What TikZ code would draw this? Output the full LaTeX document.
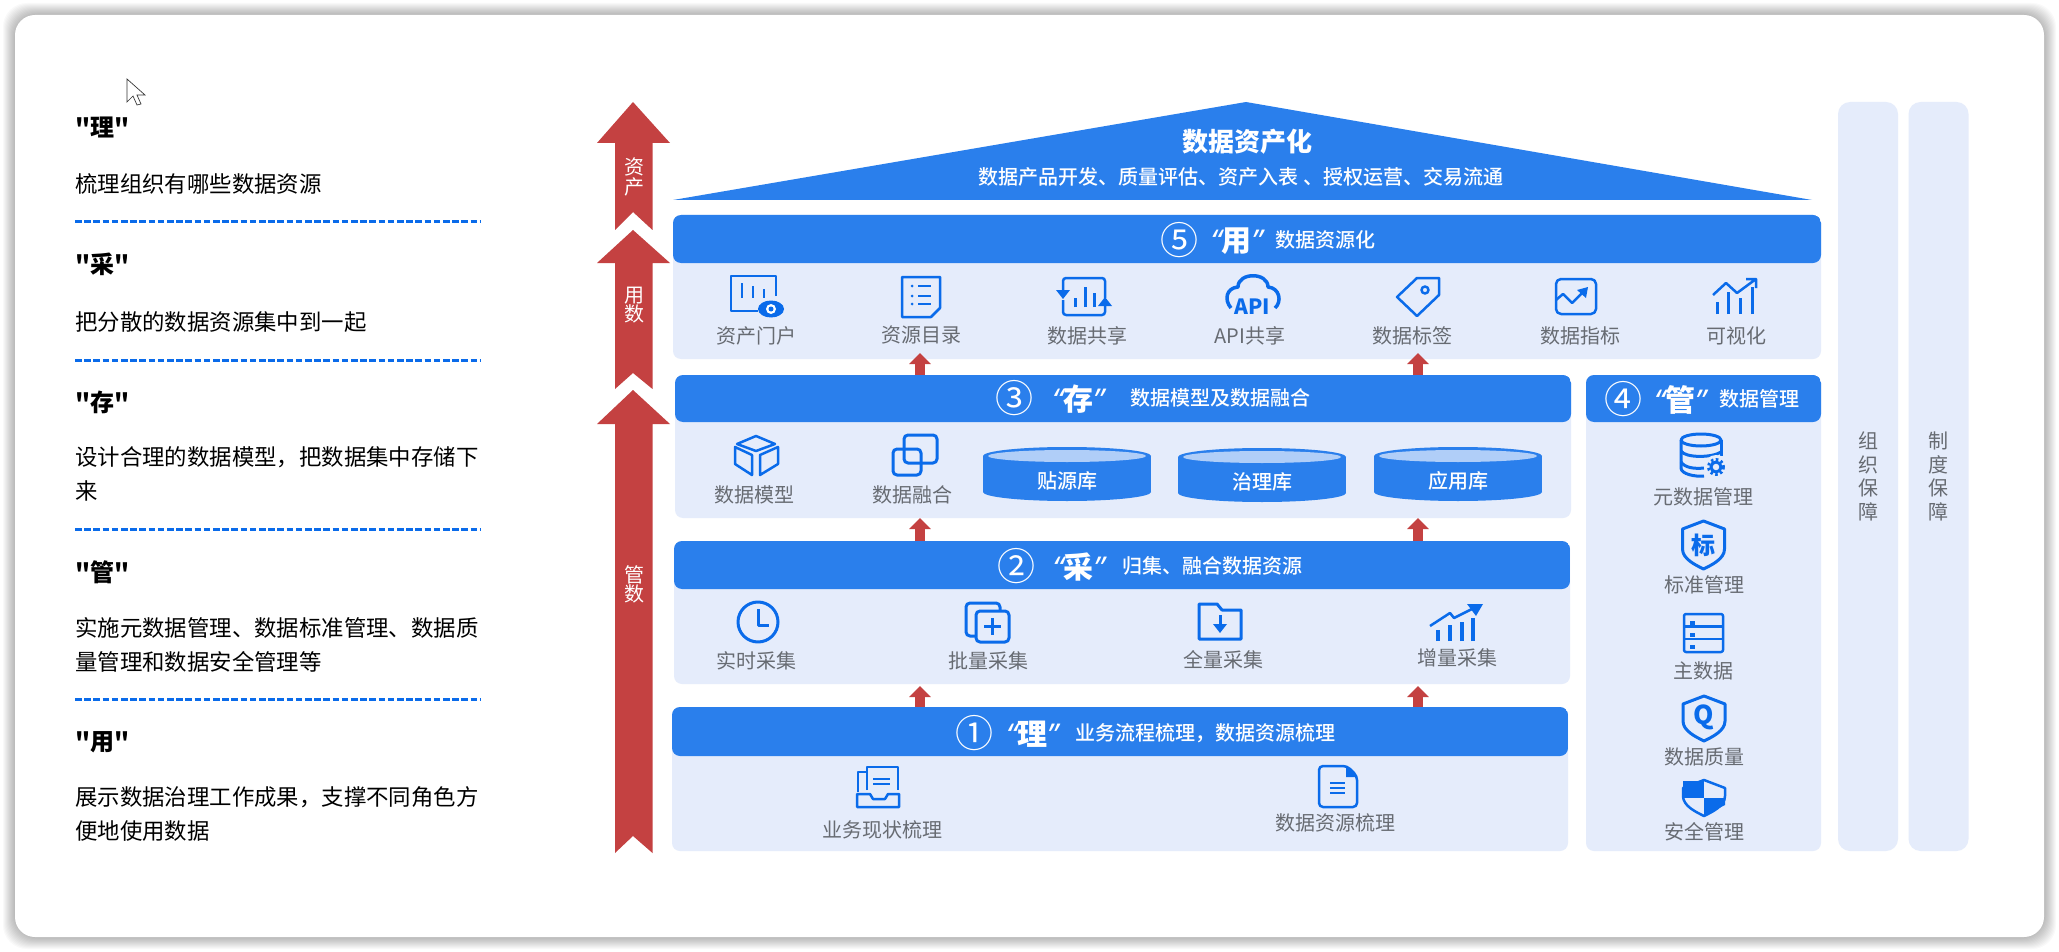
\documentclass[tikz,border=0pt]{standalone}
\usepackage{fontspec}
\setmainfont{Noto Sans CJK SC}
\newfontfamily\plainface{Noto Sans CJK SC}
\newfontfamily\midface{Noto Sans CJK SC Medium}
\newfontfamily\latinq{Noto Sans}
\usepackage{xcolor}
\usetikzlibrary{positioning,calc,arrows.meta}
\definecolor{CHead}{HTML}{2A7FEC}
\definecolor{CBody}{HTML}{E5ECFB}
\definecolor{CIcon}{HTML}{0A6BEA}
\definecolor{CRed}{HTML}{C44141}
\definecolor{CLabel}{HTML}{676B72}
\definecolor{CRim}{HTML}{B0CEF8}
\newcommand{\px}[2]{\fontsize{#1}{#2}\selectfont}
\newcommand{\quoted}[1]{{\latinq\bfseries\itshape “}#1{\latinq\bfseries\itshape ”}}
% band title: tag, x of digit, x of word, x of text, y, digit, word, text
\newcommand{\bandtitle}[8]{
  \node[headtext,font=\px{38}{40}] (#1n) at (#2,#5) {#6};
  \node[headtext,font=\px{30}{34}\bfseries] (#1w) at (#3,#5+1) {\quoted{#7}};
  \node[headtext,font=\px{20}{24}\midface] (#1s) at (#4,#5) {#8};}
% shield outline: centre x, top y, bottom y
\newcommand{\shieldline}[3]{(#1,#2) -- (#1+21,#2+8) -- (#1+21,#3-20) .. controls (#1+21,#3-10) and (#1+8,#3-4) .. (#1,#3) .. controls (#1-8,#3-4) and (#1-21,#3-10) .. (#1-21,#3-20) -- (#1-21,#2+8) -- cycle}
% drum: name, centre x, y of top ellipse, text
\newcommand{\drum}[4]{
  \fill[CHead] (#2-84,#3) rectangle (#2+84,#3+36);
  \fill[CHead] (#2,#3) ellipse [x radius=84,y radius=9];
  \fill[CHead] (#2,#3+36) ellipse [x radius=84,y radius=9];
  \fill[CRim] (#2,#3) ellipse [x radius=79,y radius=6];
  \node[font=\px{20}{24}\midface,text=white] (#1) at (#2,#3+25) {#4};}
\begin{document}
\begin{tikzpicture}[x=1pt,y=-1pt,
  band/.style n args={3}{minimum width=#1pt, minimum height=#2pt, inner sep=0pt, outer sep=0pt,
    rounded corners=8pt, fill=CBody,
    path picture={\fill[CHead] (path picture bounding box.north west) rectangle ([yshift=-#3pt]path picture bounding box.north east);}},
  sidebar/.style={minimum width=60pt, minimum height=749pt, inner sep=0pt, rounded corners=12pt, fill=CBody,
    align=center, text=CLabel, font=\px{20}{23.5}},
  heading/.style={anchor=west, inner sep=0pt, font=\px{24}{28}\plainface\bfseries},
  bodytext/.style={anchor=west, inner sep=0pt, align=left, font=\px{22.4}{34}},
  sepline/.style={draw=CIcon, line width=3pt, dash pattern=on 6.5pt off 2.7pt},
  itemlabel/.style={font=\px{20}{24}, text=CLabel},
  headtext/.style={text=white, inner sep=0pt},
  barlabel/.style={text=white, align=center, inner sep=0pt},
  pipe/.style={draw=CRed, line width=10pt, -{Triangle[length=11pt,width=21pt]}},
  ico/.style={draw=CIcon, line width=2.5pt, line join=round},
  icofill/.style={fill=CIcon}]
\useasboundingbox (0,0) rectangle (2059,952);
\fill[white] (0,0) rectangle (2059,952);
% card with soft edge
\foreach \d in {12,...,1} {\fill[black,opacity=.022,rounded corners=24pt] (15-\d,15-\d) rectangle (2044+\d,937+\d);}
\fill[white,rounded corners=20pt] (15,15) rectangle (2044,937);
\draw[draw=black!80,fill=white,line width=.7pt] (127,79) -- (127,102) -- (133,96) -- (137,105) -- (141,104) -- (137,95) -- (145,95) -- cycle;

% left column
\foreach \name/\y/\txt in {hli/127/"理", hcai/264/"采", hcun/402/"存", hguan/572/"管", hyong/742/"用"} {\node[heading] (\name) at (75,\y) {\txt};}
\node[bodytext] (tli) at (75,184) {梳理组织有哪些数据资源};
\node[bodytext] (tcai) at (75,322) {把分散的数据资源集中到一起};
\node[bodytext] (tcun) at (75,474) {设计合理的数据模型，把数据集中存储下\\来};
\node[bodytext] (tguan) at (75,645) {实施元数据管理、数据标准管理、数据质\\量管理和数据安全管理等};
\node[bodytext] (tyong) at (75,814) {展示数据治理工作成果，支撑不同角色方\\便地使用数据};
\foreach \y in {222,360,529,699} {\draw[sepline] (75,\y) -- (480,\y);}

% red bars
\foreach \tipy/\heady/\endy/\notchy in {102/143/230/212, 230/263/389/373, 390/424/853/836} {
  \fill[CRed] (633,\tipy) -- (670,\heady) -- (652.5,\heady) -- (652.5,\endy) -- (633,\notchy) -- (615,\endy) -- (615,\heady) -- (597,\heady) -- cycle;}
\node[barlabel,font=\px{20}{20}] (barzc) at (634,177) {资\\产};
\node[barlabel,font=\px{20}{17}] (baryong) at (634,305) {用\\数};
\node[barlabel,font=\px{20}{19}] (barguan) at (634,584) {管\\数};

% roof
\fill[CHead] (673,200) -- (1246,102) -- (1812,200) -- cycle;
\node[headtext,font=\px{26}{30}\bfseries] (rooft) at (1247,142) {数据资产化};
\node[headtext,font=\px{20}{24}\midface] (roofs) at (1241,177) {数据产品开发、质量评估、资产入表 、授权运营、交易流通};

% bands
\node[band={1148}{144}{48}] (band5) at (1247,287) {};
\node[band={896}{143}{47}] (band3) at (1123,446.5) {};
\node[band={896}{143}{48}] (band2) at (1122,612.5) {};
\node[band={896}{144}{49}] (band1) at (1120,779) {};
\node[band={235}{476}{47}] (band4) at (1703.5,613) {};
\bandtitle{title5}{1179}{1236.5}{1325}{240}{⑤}{用}{数据资源化}
\bandtitle{title3}{1014}{1078}{1220}{398}{③}{存}{数据模型及数据融合}
\bandtitle{title2}{1016}{1078.5}{1212.5}{566}{②}{采}{归集、融合数据资源}
\bandtitle{title1}{974}{1032}{1205.5}{733}{①}{理}{业务流程梳理，数据资源梳理}
\bandtitle{title4}{1623}{1680}{1759}{399}{④}{管}{数据管理}
\node[sidebar] (side1) at (1868,476.5) {组\\织\\保\\障};
\node[sidebar] (side2) at (1938.5,476.5) {制\\度\\保\\障};

% links between bands
\coordinate (pipeL) at (920,0);
\coordinate (pipeR) at (1418,0);
\foreach \p in {pipeL,pipeR} {
  \draw[pipe,shorten >=-6pt] (band3.north -| \p) -- (band5.south -| \p);
  \draw[pipe] (band2.north -| \p) -- (band3.south -| \p);
  \draw[pipe,shorten >=2pt] (band1.north -| \p) -- (band2.south -| \p);}

% item labels
\foreach \name/\x/\y/\txt in {lportal/756/336/资产门户, lcatalog/921/335/资源目录, lshare/1087/336/数据共享, lapi/1250/336/API共享, ltag/1412/336/数据标签, lmetric/1580/336/数据指标, lvisual/1736/336/可视化,
  lmodel/754/495/数据模型, lmerge/912/495/数据融合,
  lclock/756/661/实时采集, lbatch/988/661/批量采集, lfull/1223/660/全量采集, lincr/1457/658/增量采集,
  lbiz/882/830/业务现状梳理, lres/1335/823/数据资源梳理,
  lmeta/1703/497/元数据管理, lstd/1704/585/标准管理, lmain/1703/671/主数据, lqual/1704/757/数据质量, lsafe/1704/832/安全管理} {
  \node[itemlabel] (\name) at (\x,\y) {\txt};}

% drums
\drum{dbsrc}{1067}{456}{贴源库}
\drum{dbgov}{1262}{457}{治理库}
\drum{dbapp}{1458}{456}{应用库}

% icons, band 5
\draw[ico] (776,296) -- (776,276) -- (731,276) -- (731,311) -- (758,311);
\draw[ico] (742,283) -- (742,298) (753,286) -- (753,298) (764,289) -- (764,298);
\fill[icofill] (771,309) ellipse [x radius=13,y radius=8.5];
\fill[white] (771,309) circle (5);
\fill[icofill] (771,309) circle (2.5);
\draw[ico] (902,277) -- (940,277) -- (940,308) -- (931,317) -- (902,317) -- cycle;
\foreach \y in {286,296,304} {\draw[ico] (918,\y) -- (931,\y); \fill[icofill] (912,\y) circle (1.5);}
\draw[ico,rounded corners=3pt] (1063,292) -- (1063,278) -- (1105,278) -- (1105,298);
\draw[ico,rounded corners=3pt] (1063,300) -- (1063,315) -- (1105,315) -- (1105,304);
\fill[icofill] (1056,290) -- (1070,290) -- (1063,299) -- cycle;
\fill[icofill] (1098,306) -- (1112,306) -- (1105,297) -- cycle;
\draw[ico,line width=3pt] (1075,307) -- (1075,298) (1085,307) -- (1085,287) (1094,307) -- (1094,293);
\draw[ico,line width=3.5pt] (1231,308) .. controls (1224,300) and (1226,288) .. (1238,287) .. controls (1238,272) and (1268,272) .. (1268,287) .. controls (1280,288) and (1282,302) .. (1275,308);
\node[text=CIcon,inner sep=0pt,font=\px{21}{24}\bfseries] (apimark) at (1252,307) {API};
\draw[ico] (1397,297) -- (1417,278) -- (1439,278) -- (1439,295) -- (1417,316) -- cycle;
\draw[ico] (1425,290) circle (3.5);
\draw[ico,rounded corners=5pt] (1556,279) rectangle (1596,314);
\draw[ico] (1556,300) -- (1563,294) -- (1572,303) -- (1582,293);
\fill[icofill] (1577,290) -- (1588,287) -- (1586,298) -- cycle;
\draw[ico,line width=3pt] (1717,314) -- (1717,302) (1728,314) -- (1728,292) (1740,314) -- (1740,298) (1752,314) -- (1752,287);
\draw[ico] (1713,295) -- (1726,283) -- (1737,293) -- (1756,279) (1746,279) -- (1756,279) -- (1756,288);

% icons, band 3
\draw[ico] (756,436) -- (775,444) -- (756,451) -- (737,444) -- cycle;
\draw[ico] (735,447) -- (752,455) -- (752,475) -- (735,464) -- cycle;
\draw[ico] (778,447) -- (760,455) -- (760,475) -- (778,464) -- cycle;
\draw[ico,line width=3pt,rounded corners=4pt] (904,435) rectangle (937,463);
\draw[ico,line width=3pt,rounded corners=4pt] (893,449) rectangle (921,475);

% icons, band 2
\draw[ico,line width=3pt] (758,622) circle (20);
\draw[ico,line width=3pt] (758,609) -- (758,625) -- (769,625);
\draw[ico,line width=3pt,rounded corners=4pt] (966,603) rectangle (1000,636);
\draw[ico,line width=3pt,fill=CBody,rounded corners=4pt] (976,611) rectangle (1009,642);
\draw[ico,line width=3pt] (984,626) -- (1001,626) (992.5,618) -- (992.5,635);
\draw[ico,line width=3pt] (1199,604) -- (1217,604) -- (1222,610) -- (1241,610) -- (1241,639) -- (1199,639) -- cycle;
\draw[ico,line width=3pt] (1220,615) -- (1220,627);
\fill[icofill] (1213,624) -- (1227,624) -- (1220,633) -- cycle;
\draw[ico,line width=4pt] (1438,641) -- (1438,630) (1450,641) -- (1450,625) (1462,641) -- (1462,622) (1473,641) -- (1473,618);
\draw[ico] (1430,626) -- (1450,613) -- (1454,618) -- (1476,607);
\fill[icofill] (1467,604) -- (1483,604) -- (1476,616) -- cycle;

% icons, band 1
\draw[ico] (867,790) -- (867,767) -- (898,767) -- (898,790) (858,792) -- (858,772) -- (867,772);
\draw[ico] (857,794) -- (870,794) -- (873,799) -- (885,799) -- (888,794) -- (899,794) -- (899,807) -- (857,807) -- cycle;
\draw[ico] (873,779) -- (890,779) (873,784) -- (890,784);
\draw[ico,rounded corners=4pt] (1319,766) -- (1347,766) -- (1357,776) -- (1357,807) -- (1319,807) -- cycle;
\fill[icofill] (1346,766) -- (1357,777) -- (1346,777) -- cycle;
\draw[ico] (1330,783) -- (1345,783) (1330,788) -- (1345,788) (1330,793) -- (1345,793);

% icons, band 4
\draw[ico,line width=3pt] (1701,440) ellipse [x radius=20,y radius=6];
\draw[ico,line width=3pt] (1681,440) -- (1681,468) .. controls (1681,474) and (1695,477) .. (1704,476);
\draw[ico,line width=3pt] (1721,440) -- (1721,456);
\draw[ico,line width=3pt] (1681,451) .. controls (1685,458) and (1712,458) .. (1721,452);
\draw[ico,line width=3pt] (1681,462) .. controls (1685,468) and (1695,469) .. (1704,468);
\fill[CBody] (1716,467) circle (12);
\draw[ico,line width=3pt] (1716,467) circle (5);
\draw[ico,line width=3pt,dash pattern=on 2.5pt off 2.5pt] (1716,467) circle (7.5);
\draw[ico,line width=3pt] \shieldline{1703.5}{521}{569};
\node[text=CIcon,inner sep=0pt,font=\px{24}{28}\bfseries] (stdmark) at (1703.5,545) {标};
\draw[ico,rounded corners=2pt] (1684,614) rectangle (1723,652);
\draw[ico] (1684,626.5) -- (1723,626.5) (1684,639) -- (1723,639);
\foreach \y in {621,633,645} {\fill[icofill] (1690,\y) rectangle (1695,\y+4);}
\draw[ico,line width=3pt] \shieldline{1704}{696}{741};
\node[text=CIcon,inner sep=0pt,font=\px{26}{30}\bfseries] (qualmark) at (1704,717) {Q};
\draw[ico,line width=2.5pt] \shieldline{1704}{780}{816};
\fill[icofill] (1683,781) -- (1704,781) -- (1704,798) -- (1683,798) -- cycle;
\fill[icofill] (1704,798) -- (1725,798) -- (1725,805) -- (1704,816) -- cycle;
\end{tikzpicture}
\end{document}
